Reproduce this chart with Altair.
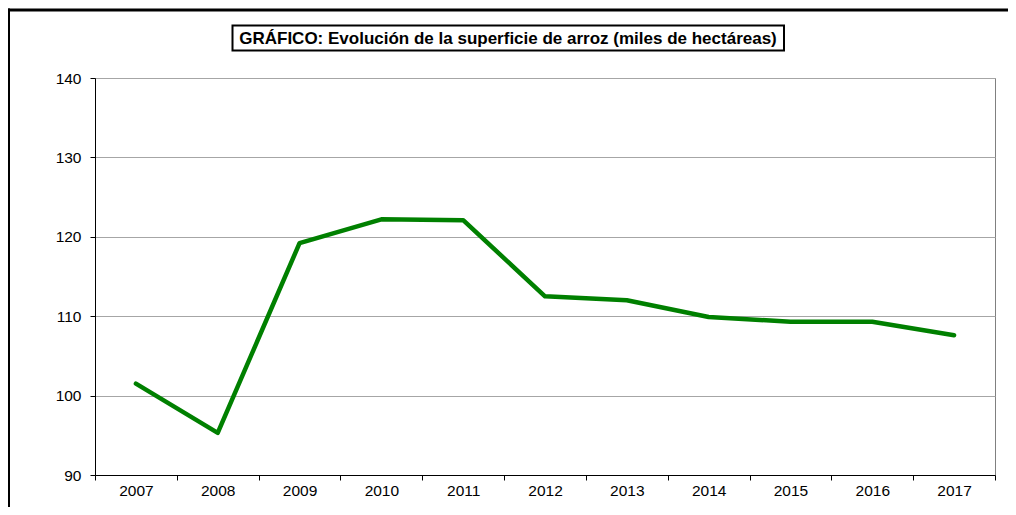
import altair as alt
import pandas as pd

years = ["2007", "2008", "2009", "2010", "2011", "2012", "2013", "2014", "2015", "2016", "2017"]
superficie = [101.5, 95.3, 119.2, 122.2, 122.1, 112.5, 112.0, 109.9, 109.3, 109.3, 107.6]
y_ticks = [90, 100, 110, 120, 130, 140]
title_text = "GRÁFICO: Evolución de la superficie de arroz (miles de hectáreas)"

df = pd.DataFrame({"year": years, "value": superficie})
one = pd.DataFrame({"a": [0]})

FONT = "Liberation Sans"

line = alt.Chart(df).mark_line(color="#008000", strokeWidth=4.5, strokeCap="round", strokeJoin="round").encode(
    x=alt.X("year:O", sort=years, bandPosition=0.5,
            scale=alt.Scale(type="band", paddingInner=0, paddingOuter=0),
            axis=alt.Axis(title=None, labelAngle=0, tickBand="extent", tickSize=5,
                          domainColor="black", tickColor="black", grid=False,
                          labelPadding=3, labelFont=FONT, labelFontSize=15.5, labelColor="black")),
    y=alt.Y("value:Q", scale=alt.Scale(domain=[90, 140], nice=False, zero=False),
            axis=alt.Axis(title=None, values=y_ticks, tickSize=5, domainColor="black",
                          tickColor="black", gridColor="#a6a6a6", labelPadding=9,
                          labelFont=FONT, labelFontSize=15.5, labelColor="black")),
)

top_border = alt.Chart(one).mark_rule(color="black", strokeWidth=3).encode(
    x=alt.value(-88), x2=alt.value(1000), y=alt.value(-68))
left_border = alt.Chart(one).mark_rule(color="black", strokeWidth=3).encode(
    x=alt.value(-86.5), y=alt.value(-69.5), y2=alt.value(500))

title_box = alt.Chart(one).mark_rect(fill="white", stroke="black", strokeWidth=2).encode(
    x=alt.value(137.5), x2=alt.value(689), y=alt.value(-52.5), y2=alt.value(-27.5))
title = alt.Chart(one).mark_text(font=FONT, fontSize=17, fontWeight="bold", color="black",
                                 align="center", baseline="middle").encode(
    x=alt.value(413), y=alt.value(-39.5), text=alt.value(title_text))

chart = alt.layer(line, top_border, left_border, title_box, title).properties(
    width=900, height=397,
    padding={"left": 87, "top": 70, "right": 13, "bottom": 32},
    autosize="none",
).configure_view(stroke="#808080", strokeWidth=1)

chart.save("out.html", embed_options={"renderer": "svg", "actions": False})
